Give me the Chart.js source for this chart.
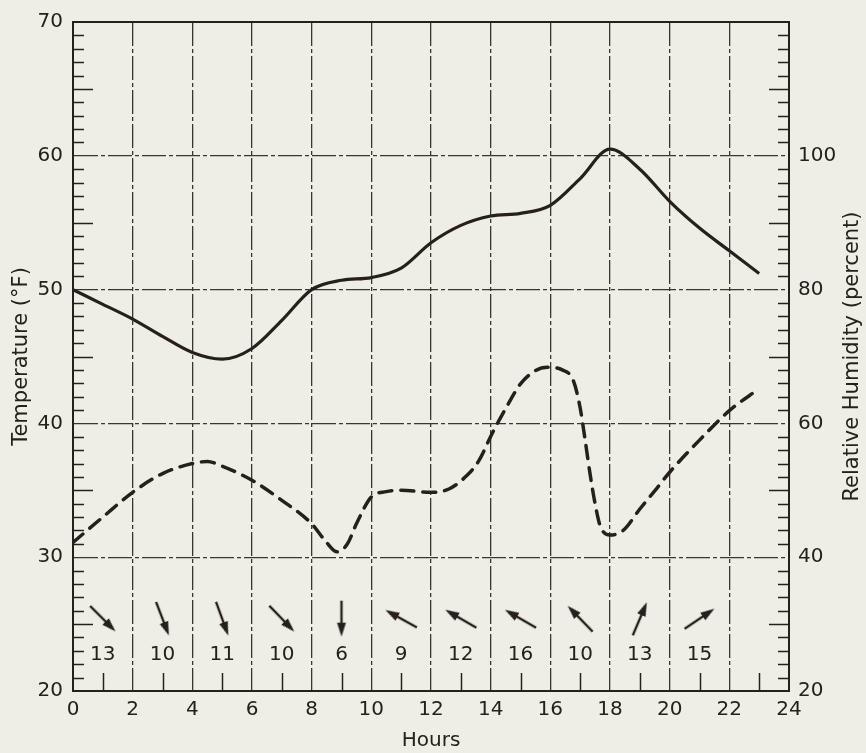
<!DOCTYPE html>
<html>
<head>
<meta charset="utf-8">
<script src="https://cdn.jsdelivr.net/npm/chart.js@4.4.1/dist/chart.umd.min.js"></script>
<style>
  html, body { margin: 0; padding: 0; background: #efeee4; }
  #wrap { width: 866px; height: 753px; }
</style>
</head>
<body>
<div id="wrap"><canvas id="chart"></canvas></div>
<script>
// Temperature (°F), solid curve
const tempHours = [0, 1, 2, 3, 4, 5, 6, 7, 8, 9, 10, 11, 12, 13, 14, 15, 16, 17, 18, 19, 20, 21, 22, 23]
const tempValues = [50.0, 48.9, 47.8, 46.5, 45.3, 44.8, 45.6, 47.7, 50.0, 50.7, 50.9, 51.6, 53.5, 54.8, 55.5, 55.7, 56.3, 58.3, 60.5, 59.0, 56.6, 54.6, 52.9, 51.2]

// Relative humidity (percent), dashed curve
const rhHours = [0, 1, 2, 3, 4, 4.5, 5, 6, 7, 8, 8.5, 8.85, 9.2, 9.5, 10, 10.5, 11, 12, 12.6, 13.2, 13.6, 14.05, 14.55, 15, 15.5, 15.9, 16.4, 16.77, 17, 17.17, 17.33, 17.5, 17.67, 18, 18.44, 19, 19.57, 20, 21, 22, 23]
const rhValues = [42.2, 46, 49.7, 52.5, 54, 54.3, 53.6, 51.5, 48.5, 45, 42.2, 40.8, 42, 45, 49, 49.8, 50, 49.7, 50.2, 52.2, 54.4, 58.5, 62.6, 65.9, 67.9, 68.4, 68.0, 66.4, 62.3, 57.4, 52.5, 48.0, 44.7, 43.3, 44.0, 47.2, 50.3, 52.7, 57.5, 61.9, 65.2]

// Wind: speed and the way the arrow points (degrees clockwise from up)
const windHours = [1, 3, 5, 7, 9, 11, 13, 15, 17, 19, 21]
const windSpeeds = [13, 10, 11, 10, 6, 9, 12, 16, 10, 13, 15]
const windArrowDeg = [135, 159, 160, 136, 180, 299, 300, 300, 316, 23, 56]

// Right axis labels
const rhTickLabels = [20, 40, 60, 80, 100]

const INK = "#26201d"
const GRID = "#3b3431"
const FONT = "'DejaVu Sans', sans-serif"
const ARROW_LEVEL = 25.4
const SPEED_LEVEL = 22.7

// Arrow image used as point style
function makeArrow() {
  const c = document.createElement("canvas")
  c.width = 44
  c.height = 44
  const g = c.getContext("2d")
  g.strokeStyle = INK
  g.fillStyle = INK
  g.lineWidth = 2.4
  g.beginPath()
  g.moveTo(22, 40)
  g.lineTo(22, 14)
  g.stroke()
  g.beginPath()
  g.moveTo(22, 4)
  g.lineTo(17.5, 18)
  g.lineTo(26.5, 18)
  g.closePath()
  g.fill()
  return c
}

// Inward tick marks, top frame line, wind speeds and axis titles
const decorations = {
  id: "decorations",
  afterDraw(chart) {
    const { ctx, chartArea: a, scales: { x, y, y1 } } = chart
    ctx.save()
    ctx.strokeStyle = INK
    ctx.lineWidth = 1.5
    ctx.beginPath()
    for (let v = 21; v < 70; v++) {
      if (v % 10 === 0) continue
      const py = Math.round(y.getPixelForValue(v)) + 0.5
      ctx.moveTo(a.left, py)
      ctx.lineTo(a.left + (v % 5 === 0 ? 20 : 11), py)
    }
    for (let v = 22; v < 120; v += 2) {
      if (v % 20 === 0) continue
      const py = Math.round(y1.getPixelForValue(v)) + 0.5
      ctx.moveTo(a.right, py)
      ctx.lineTo(a.right - (v % 10 === 0 ? 20 : 11), py)
    }
    for (let h = 1; h < 24; h += 2) {
      const px = Math.round(x.getPixelForValue(h)) + 0.5
      ctx.moveTo(px, a.bottom)
      ctx.lineTo(px, a.bottom - 18)
    }
    ctx.stroke()

    ctx.lineWidth = 2
    ctx.beginPath()
    ctx.moveTo(a.left, a.top)
    ctx.lineTo(a.right, a.top)
    ctx.stroke()

    ctx.fillStyle = INK
    ctx.font = "20px " + FONT
    ctx.textAlign = "center"
    ctx.textBaseline = "middle"
    windHours.forEach((h, i) => {
      ctx.fillText(String(windSpeeds[i]), x.getPixelForValue(h), y.getPixelForValue(SPEED_LEVEL))
    })

    const cy = (a.top + a.bottom) / 2
    ctx.font = "21px " + FONT
    ctx.textBaseline = "alphabetic"
    ;[["Temperature (°F)", 27], ["Relative Humidity (percent)", 858]].forEach(([text, bx]) => {
      ctx.save()
      ctx.translate(bx, cy)
      ctx.rotate(-Math.PI / 2)
      ctx.fillText(text, 0, 0)
      ctx.restore()
    })
    ctx.restore()
  },
}

Chart.defaults.font.family = FONT
Chart.defaults.color = INK

new Chart(document.getElementById("chart"), {
  type: "line",
  data: {
    datasets: [
      {
        label: "Temperature",
        data: tempHours.map((h, i) => ({ x: h, y: tempValues[i] })),
        yAxisID: "y",
        borderColor: INK,
        borderWidth: 3.2,
        pointRadius: 0,
        cubicInterpolationMode: "monotone",
      },
      {
        label: "Relative Humidity",
        data: rhHours.map((h, i) => ({ x: h, y: rhValues[i] })),
        yAxisID: "y1",
        borderColor: INK,
        borderWidth: 3.5,
        borderDash: [13, 9],
        borderCapStyle: "round",
        pointRadius: 0,
        cubicInterpolationMode: "monotone",
      },
      {
        label: "Wind",
        data: windHours.map((h) => ({ x: h, y: ARROW_LEVEL })),
        yAxisID: "y",
        showLine: false,
        pointStyle: makeArrow(),
        pointRadius: 10,
        pointRotation: windArrowDeg,
      },
    ],
  },
  options: {
    responsive: true,
    maintainAspectRatio: false,
    animation: false,
    events: [],
    layout: { padding: { top: 20 } },
    plugins: {
      legend: { display: false },
      tooltip: { enabled: false },
    },
    scales: {
      x: {
        type: "linear",
        min: 0,
        max: 24,
        ticks: { stepSize: 2, padding: 7, font: { size: 20 }, color: INK },
        grid: { color: GRID, lineWidth: 1.3, drawTicks: false },
        border: { color: INK, width: 2, dash: [24, 3, 4, 3] },
        title: { display: true, text: "Hours", font: { size: 20 }, color: INK, padding: { top: 0, bottom: 0 } },
        afterFit: (s) => { s.height = 62 },
      },
      y: {
        position: "left",
        min: 20,
        max: 70,
        ticks: { stepSize: 10, padding: 10, font: { size: 20 }, color: INK },
        grid: { color: GRID, lineWidth: 1.3, drawTicks: false },
        border: { color: INK, width: 2, dash: [24, 3, 4, 3] },
        afterFit: (s) => { s.width = 73 },
      },
      y1: {
        position: "right",
        min: 20,
        max: 120,
        ticks: {
          stepSize: 20,
          padding: 9,
          font: { size: 20 },
          color: INK,
          callback: (v) => (rhTickLabels.includes(v) ? v : ""),
        },
        grid: { drawOnChartArea: false, drawTicks: false },
        border: { color: INK, width: 2 },
        afterFit: (s) => { s.width = 77 },
      },
    },
  },
  plugins: [decorations],
})
</script>
</body>
</html>
